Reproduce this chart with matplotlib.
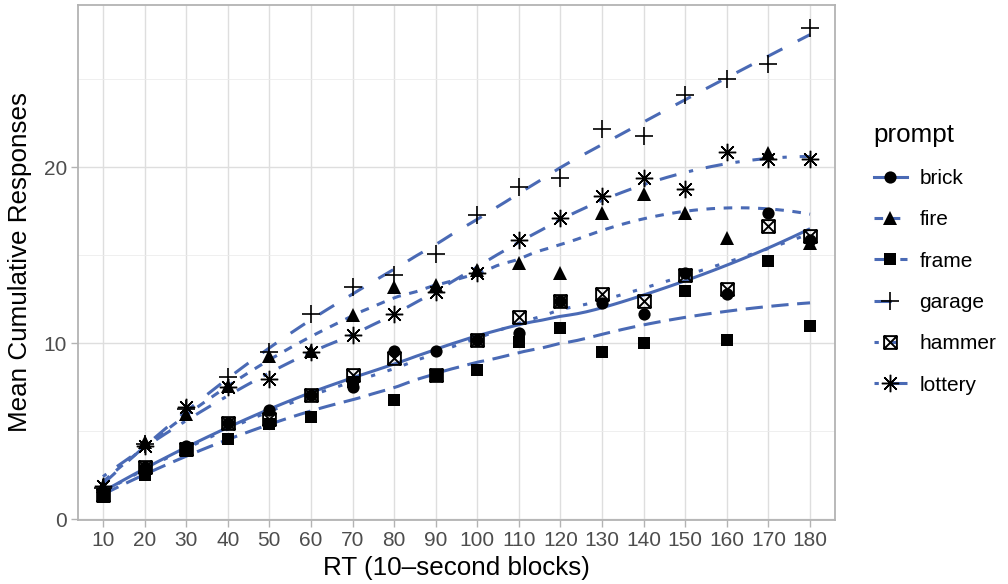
import numpy as np
import matplotlib
matplotlib.use('Agg')
import matplotlib.pyplot as plt
from matplotlib.path import Path
from matplotlib.lines import Line2D

plt.rcParams['font.family'] = ['Liberation Sans', 'DejaVu Sans']
plt.rcParams['lines.scale_dashes'] = False

# RT blocks (discrete x axis)
rt = [10, 20, 30, 40, 50, 60, 70, 80, 90, 100, 110, 120, 130, 140, 150, 160, 170, 180]

# mean cumulative responses per prompt
brick = [1.4, 3.0, 4.2, 5.5, 6.2, 7.1, 7.5, 9.6, 9.6, 10.2, 10.6, 12.4, 12.3, 11.7, 14.0, 12.8, 17.4, 15.9]
fire = [1.9, 4.4, 6.0, 7.6, 9.3, 9.6, 11.6, 13.2, 13.3, 14.2, 14.6, 14.0, 17.4, 18.5, 17.4, 16.0, 20.8, 15.7]
frame = [1.3, 2.5, 3.9, 4.6, 5.45, 5.8, 7.8, 6.8, 8.2, 8.5, 10.1, 10.9, 9.5, 10.0, 13.0, 10.2, 14.7, 11.0]
garage = [1.8, 4.3, 6.3, 8.1, 9.5, 11.7, 13.2, 13.9, 15.1, 17.3, 18.9, 19.4, 22.2, 21.8, 24.1, 25.0, 25.9, 27.9]
hammer = [1.4, 3.0, 4.0, 5.5, 5.7, 7.1, 8.2, 9.2, 8.2, 10.2, 11.5, 12.4, 12.8, 12.4, 13.9, 13.1, 16.7, 16.1]
lottery = [1.9, 4.2, 6.4, 7.5, 8.0, 9.5, 10.5, 11.7, 12.9, 14.0, 15.9, 17.1, 18.4, 19.4, 18.8, 20.9, 20.5, 20.5]

prompts = ['brick', 'fire', 'frame', 'garage', 'hammer', 'lottery']
series = [brick, fire, frame, garage, hammer, lottery]

BLUE = '#4a6ab5'

# square with an X (ggplot shape 7)
boxx = Path([(-1, -1), (1, -1), (1, 1), (-1, 1), (-1, -1), (-1, -1), (1, 1), (-1, 1), (1, -1)],
            [Path.MOVETO, Path.LINETO, Path.LINETO, Path.LINETO, Path.CLOSEPOLY,
             Path.MOVETO, Path.LINETO, Path.MOVETO, Path.LINETO])

markers = {
    'brick': dict(marker='o', markersize=8.8, mfc='black', mec='black', mew=0),
    'fire': dict(marker='^', markersize=10, mfc='black', mec='black', mew=0),
    'frame': dict(marker='s', markersize=9.2, mfc='black', mec='black', mew=0),
    'garage': dict(marker='+', markersize=13, mfc='none', mec='black', mew=1.2),
    'hammer': dict(marker=boxx, markersize=9.2, mfc='none', mec='black', mew=1.4),
    'lottery': dict(marker=(8, 2, 0), markersize=12.5, mfc='none', mec='black', mew=1.05),
}

u = 3.1
dashes = {
    'brick': (None, None),
    'fire': (0, (2 * u, 2 * u)),
    'frame': (0, (4 * u, 2 * u)),
    'garage': (0, (4 * u, 4 * u)),
    'hammer': (0, (1 * u, 3 * u)),
    'lottery': (0, (1 * u, 3 * u, 4 * u, 3 * u)),
}


def loess(x, y, xs, span=0.75):
    x = np.asarray(x, float)
    y = np.asarray(y, float)
    q = int(np.floor(len(x) * span))
    out = []
    for x0 in xs:
        d = np.abs(x - x0)
        h = np.sort(d)[q - 1]
        w = np.clip(1 - (d / h) ** 3, 0, None) ** 3
        X = np.column_stack([np.ones_like(x), x - x0, (x - x0) ** 2])
        sw = np.sqrt(w)
        beta = np.linalg.lstsq(X * sw[:, None], y * sw, rcond=None)[0]
        out.append(beta[0])
    return np.array(out)


pos = np.arange(1, len(rt) + 1)
grid = np.linspace(1, len(rt), 80)

fig = plt.figure(figsize=(10.08, 5.84), dpi=100)
ax = fig.add_axes([78 / 1008, 64 / 584, 757 / 1008, 515 / 584])

handles = []
for name, vals in zip(prompts, series):
    ls = '-' if name == 'brick' else dashes[name]
    ax.plot(grid, loess(pos, vals, grid), color=BLUE, lw=2.2, linestyle=ls,
            solid_capstyle='butt', dash_capstyle='butt', zorder=2)
    ax.plot(pos, vals, linestyle='none', zorder=3, **markers[name])
    handles.append(Line2D([], [], color=BLUE, lw=2.2, linestyle=ls,
                          dash_capstyle='butt', **markers[name]))

allv = np.concatenate([np.asarray(s) for s in series])
lo, hi = allv.min(), allv.max()
pad = 0.05 * (hi - lo)
ax.set_ylim(lo - pad, hi + pad)
ax.set_xlim(0.4, len(rt) + 0.6)
ax.set_xticks(pos)
ax.set_xticklabels([str(v) for v in rt])
ax.set_yticks([0, 10, 20])
ax.set_yticks([5, 15, 25], minor=True)

ax.grid(True, which='major', color='#dedede', lw=1.0)
ax.grid(True, which='minor', axis='y', color='#ececec', lw=0.6)
ax.set_axisbelow(True)
for s in ax.spines.values():
    s.set_color('#b3b3b3')
    s.set_linewidth(1.3)
ax.tick_params(axis='both', which='major', colors='#b3b3b3', length=5, width=1.0,
               labelcolor='#4d4d4d', labelsize=15, pad=3)
ax.tick_params(axis='y', which='minor', length=0)

ax.set_xlabel('RT (10\u2013second blocks)', fontsize=18.7, labelpad=4)
ax.set_ylabel('Mean Cumulative Responses', fontsize=18.7, labelpad=8)

leg = fig.legend(handles, prompts, loc='upper left', bbox_to_anchor=(855 / 1008, 1 - 104 / 584),
                 title='prompt', frameon=False, fontsize=15, title_fontsize=18.7,
                 handlelength=1.6, handletextpad=0.6, labelspacing=1.07, numpoints=1,
                 alignment='left')

fig.savefig('out.png', dpi=100)
